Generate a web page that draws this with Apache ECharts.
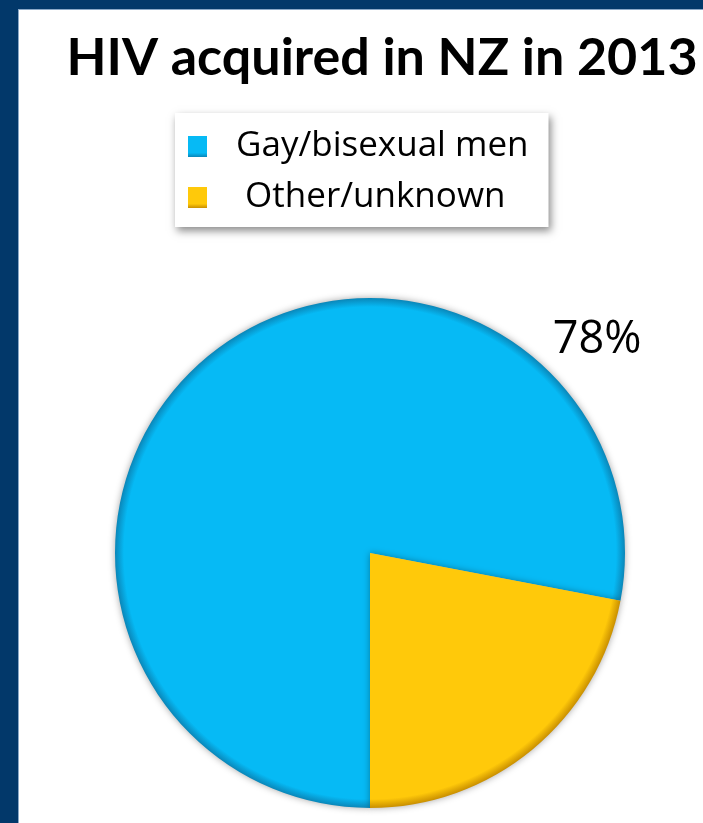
<!DOCTYPE html>
<html>
<head>
<meta charset="utf-8">
<title>HIV acquired in NZ in 2013</title>
<script src="https://cdn.jsdelivr.net/npm/echarts@6/dist/echarts.min.js"></script>
<style>
  html, body { margin: 0; padding: 0; background: #ffffff; }
  #chart { width: 703px; height: 823px; }
</style>
</head>
<body>
<div id="chart"></div>
<script>
// Source figures
const titleText = 'HIV acquired in NZ in 2013';
const categories = ['Gay/bisexual men', 'Other/unknown'];
const shares = [78, 22];
const baseColors = ['#06BAF5', '#FFC90A'];
const rimColors = ['#0a86b8', '#c98f00'];

const cx = 370, cy = 553, radius = 255;

// Radial gradient anchored on the whole pie so each slice gets a darker rim
function bevel(base, rim) {
  return {
    type: 'radial', x: cx, y: cy, r: radius, global: true,
    colorStops: [
      { offset: 0, color: base },
      { offset: 0.965, color: base },
      { offset: 1, color: rim }
    ]
  };
}

// Small bevelled square for the legend keys
function keyFill(base, rim) {
  return {
    type: 'linear', x: 0, y: 0, x2: 0, y2: 1,
    colorStops: [
      { offset: 0, color: base },
      { offset: 0.8, color: base },
      { offset: 1, color: rim }
    ]
  };
}

const pieData = categories.map((name, i) => ({
  name: name,
  value: shares[i],
  itemStyle: { color: bevel(baseColors[i], rimColors[i]) },
  label: { show: i === 0 }
}));

const chart = echarts.init(document.getElementById('chart'), null, { renderer: 'canvas' });

chart.setOption({
  backgroundColor: '#ffffff',
  animation: false,
  title: {
    text: titleText,
    left: 377,
    top: 27,
    textAlign: 'center',
    textStyle: {
      fontFamily: 'Lato',
      fontWeight: 'bold',
      fontSize: 52,
      color: '#000000'
    }
  },
  legend: {
    orient: 'vertical',
    left: 175,
    top: 113,
    width: 372,
    padding: [13, 20, 9, 13],
    backgroundColor: '#ffffff',
    shadowBlur: 8,
    shadowColor: 'rgba(0,0,0,0.45)',
    shadowOffsetX: 2,
    shadowOffsetY: 4,
    itemWidth: 19,
    itemHeight: 21,
    itemGap: 10,
    icon: 'rect',
    selectedMode: false,
    data: categories.map((name, i) => ({
      name: name,
      itemStyle: { color: keyFill(baseColors[i], rimColors[i]) }
    })),
    formatter: function (name) {
      return name === categories[1] ? ' ' + name : name;
    },
    textStyle: {
      fontFamily: 'Open Sans',
      fontSize: 35,
      color: '#000000',
      padding: [0, 0, 0, 24],
      lineHeight: 41
    }
  },
  series: [{
    type: 'pie',
    center: [cx, cy],
    radius: radius,
    startAngle: -90,
    clockwise: true,
    silent: true,
    data: pieData,
    itemStyle: {
      shadowBlur: 7,
      shadowColor: 'rgba(0,0,0,0.35)'
    },
    label: {
      position: 'outside',
      formatter: function (p) { return p.value + '%'; },
      fontFamily: 'Open Sans',
      fontSize: 45,
      color: '#000000'
    },
    labelLine: { show: false },
    labelLayout: function () {
      return { x: 597, y: 340, align: 'center', verticalAlign: 'middle' };
    }
  }],
  graphic: [
    // navy slide frame on the left and top
    { type: 'rect', shape: { x: 0, y: 0, width: 18, height: 823 }, style: { fill: '#02386A' }, z: 100 },
    { type: 'rect', shape: { x: 0, y: 0, width: 703, height: 9 }, style: { fill: '#02386A' }, z: 100 },
    { type: 'rect', shape: { x: 18, y: 9, width: 1, height: 814 }, style: { fill: '#8aa8c8' }, z: 100 },
    { type: 'rect', shape: { x: 18, y: 9, width: 685, height: 1 }, style: { fill: '#8aa8c8' }, z: 100 }
  ]
});
</script>
</body>
</html>
